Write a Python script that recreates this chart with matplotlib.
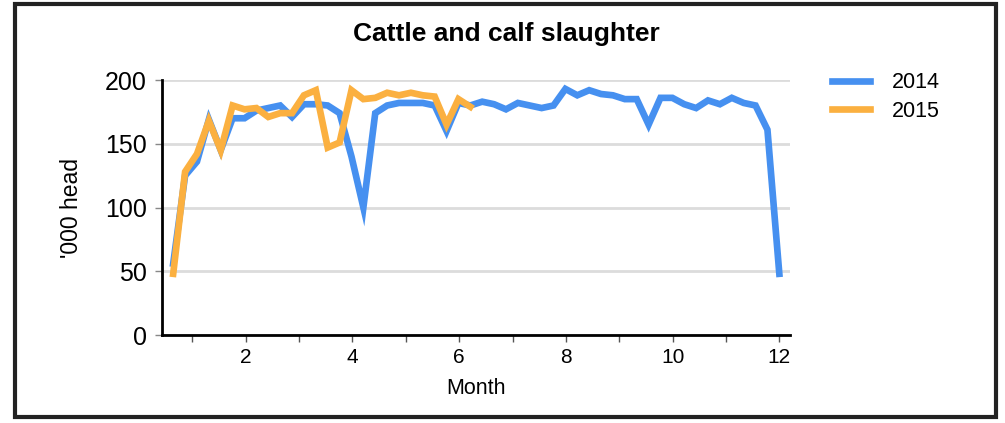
import numpy as np
import matplotlib
matplotlib.use('Agg')
import matplotlib.pyplot as plt
from matplotlib.patches import Rectangle

plt.rcParams['font.family'] = ['Liberation Sans', 'DejaVu Sans']

# weekly points, first week of Jan at ~0.64 to last week of Dec at 12
weeks_2014 = np.linspace(0.64, 12.0, 52)
slaughter_2014 = [56, 125, 136, 169, 145, 170, 170, 176, 178, 180,
                  171, 181, 181, 180, 174, 140, 100, 174, 180, 182,
                  182, 182, 180, 160, 182, 180, 183, 181, 177, 182,
                  180, 178, 180, 193, 188, 192, 189, 188, 185, 185,
                  165, 186, 186, 181, 178, 184, 181, 186, 182, 180,
                  161, 48]
weeks_2015 = weeks_2014[:26]
slaughter_2015 = [48, 128, 142, 168, 145, 180, 177, 178, 171, 174,
                  174, 188, 192, 147, 151, 192, 185, 186, 190, 188,
                  190, 188, 187, 165, 185, 179]

month_ticks = list(range(1, 13))
month_labels = ['' if m % 2 else str(m) for m in month_ticks]
y_ticks = [0, 50, 100, 150, 200]

blue = '#4690f0'
orange = '#fbb040'

fig = plt.figure(figsize=(10.05, 4.23), dpi=100)
ax = fig.add_axes([162/1005, 1-335/423, (790-162)/1005, (335-80)/423])

ax.plot(weeks_2014, slaughter_2014, color=blue, lw=4.8, label='2014',
        solid_joinstyle='miter', clip_on=False, zorder=3)
ax.plot(weeks_2015, slaughter_2015, color=orange, lw=4.8, label='2015',
        solid_joinstyle='miter', clip_on=False, zorder=4)

ax.set_xlim(0.43, 12.2)
ax.set_ylim(0, 200)
ax.set_xticks(month_ticks)
ax.set_xticklabels(month_labels, fontsize=15)
ax.set_yticks(y_ticks)
ax.set_yticklabels([str(v) for v in y_ticks], fontsize=18)
ax.yaxis.grid(True, color='#dcdcdc', lw=2)
ax.set_axisbelow(True)
for s in ['top', 'right']:
    ax.spines[s].set_visible(False)
for s in ['left', 'bottom']:
    ax.spines[s].set_linewidth(2)
ax.tick_params(axis='x', length=5, width=1, color='#555555', pad=4)
ax.tick_params(axis='y', length=5, width=1, color='#888888', pad=6)

ax.set_xlabel('Month', fontsize=15.5, labelpad=8)
ax.set_ylabel("'000 head", fontsize=16.5, labelpad=16)
ax.set_title('Cattle and calf slaughter', fontsize=19, fontweight='bold', pad=28)
ax.title.set_position((0.548, 1))

fig.legend(loc='upper left', bbox_to_anchor=(813/1005, 1-53/423), frameon=False,
           fontsize=15.5, handlelength=1.75, handletextpad=1.0, labelspacing=0.35)

# outer frame
fig.patches.append(Rectangle((15/1005, 1-417/423), 981/1005, 413/423,
                             transform=fig.transFigure, fill=False,
                             edgecolor='#222222', lw=3, zorder=0))

plt.savefig('out.png', dpi=100)
